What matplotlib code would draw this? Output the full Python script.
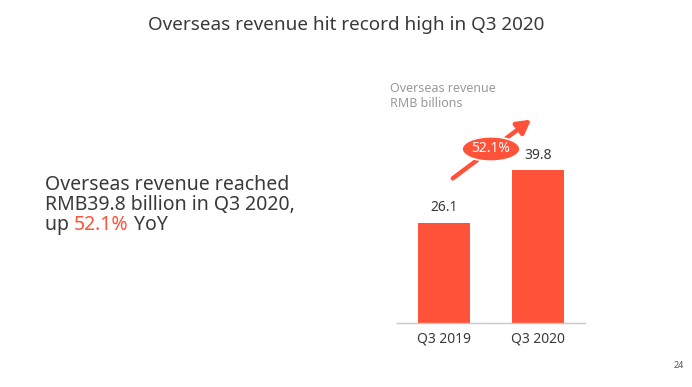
import matplotlib
matplotlib.use("Agg")
import matplotlib.pyplot as plt

categories = ["Q3 2019", "Q3 2020"]
values = [26.1, 39.8]
growth_label = "52.1%"

RED = "#FF5238"
DARK = "#3a3a3a"
GRAY = "#9a9a9a"

plt.rcParams['font.family'] = ['Noto Sans', 'DejaVu Sans']

W, H = 692, 387
fig = plt.figure(figsize=(W / 100, H / 100), dpi=100)
fig.patch.set_facecolor("white")

ax = fig.add_axes([397 / W, (H - 323) / H, 188 / W, 243 / H])
x = list(range(len(categories)))
ax.bar(x, values, width=0.553, color=RED, zorder=2)
ax.set_xlim(-0.5, 1.5)
ax.set_ylim(0, 63.4)
for s in ["top", "right", "left"]:
    ax.spines[s].set_visible(False)
ax.spines["bottom"].set_color("#c8c8c8")
ax.spines["bottom"].set_linewidth(1.0)
ax.set_yticks([])
ax.set_xticks(x)
ax.set_xticklabels(categories, fontsize=10, color=DARK)
ax.tick_params(axis="x", length=0, pad=6)
for xi, v in zip(x, values):
    ax.text(xi, v + 2.0, f"{v:.1f}", ha="center", va="bottom", fontsize=10, color=DARK)

# growth arrow
ax.annotate("", xy=(0.95, 53.5), xytext=(0.07, 37.3),
            arrowprops=dict(arrowstyle="-|>,head_length=0.8,head_width=0.45", color=RED, lw=3.2),
            annotation_clip=False)
ax.text(0.5, 45.4, growth_label, ha="center", va="center", fontsize=10, color="white",
        bbox=dict(boxstyle="ellipse,pad=0.08", fc=RED, ec="white", lw=1.2), zorder=5)

fig.text(390 / W, 1 - 96 / H, "Overseas revenue\nRMB billions", ha="left", va="center",
         fontsize=9, color=GRAY, linespacing=1.2)

fig.text(0.5, 1 - 25 / H, "Overseas revenue hit record high in Q3 2020", ha="center", va="center",
         fontsize=13.6, color=DARK)

fs = 14
fig.text(45 / W, 1 - 185 / H, "Overseas revenue reached", ha="left", va="center", fontsize=fs, color=DARK)
fig.text(45 / W, 1 - 205 / H, "RMB39.8 billion in Q3 2020,", ha="left", va="center", fontsize=fs, color=DARK)
t1 = fig.text(45 / W, 1 - 225 / H, "up ", ha="left", va="center", fontsize=fs, color=DARK)
fig.canvas.draw()
r = fig.canvas.get_renderer()
bb = t1.get_window_extent(r)
t2 = fig.text(bb.x1 / W, 1 - 225 / H, growth_label, ha="left", va="center", fontsize=fs, color=RED)
bb2 = t2.get_window_extent(r)
fig.text(bb2.x1 / W, 1 - 225 / H, " YoY", ha="left", va="center", fontsize=fs, color=DARK)

fig.text(684 / W, 1 - 365 / H, "24", ha="right", va="center", fontsize=6.5, color="#555555")

fig.savefig("out.png", dpi=100)
